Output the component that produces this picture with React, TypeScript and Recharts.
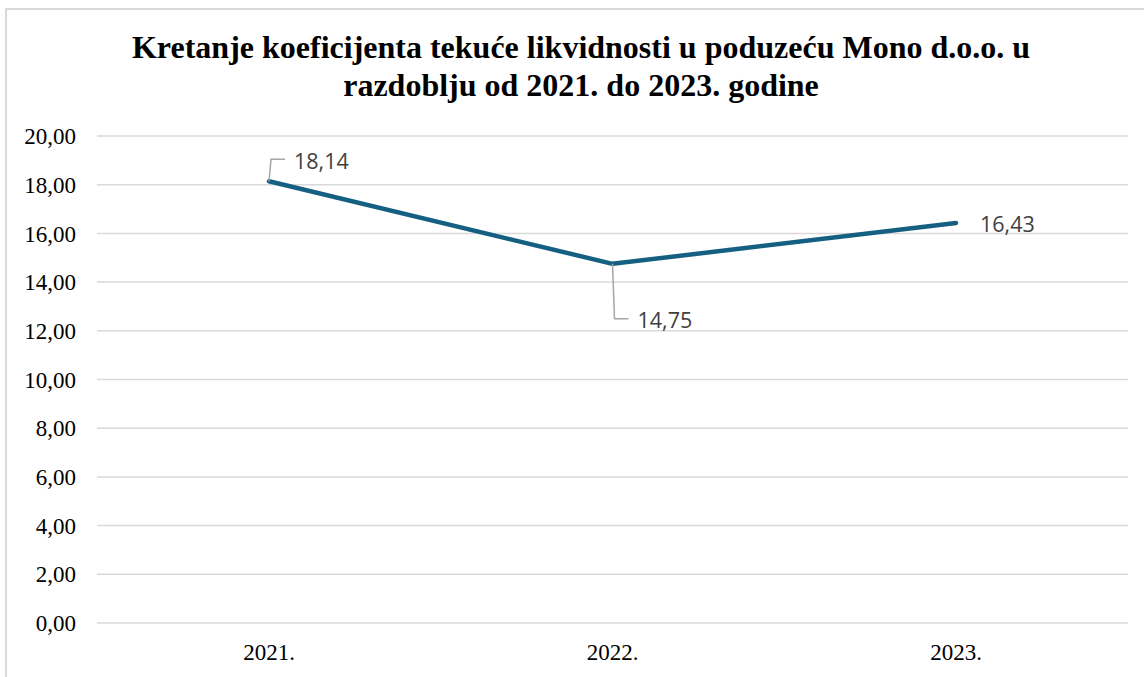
import React from "react";
import { LineChart, Line, XAxis, YAxis, CartesianGrid, LabelList } from "recharts";

const categories = ["2021.", "2022.", "2023."];
const values = [18.14, 14.75, 16.43];
const yTicks = [0, 2, 4, 6, 8, 10, 12, 14, 16, 18, 20];
const titleLines = [
  "Kretanje koeficijenta tekuće likvidnosti u poduzeću Mono d.o.o. u",
  "razdoblju od 2021. do 2023. godine",
];

const data = categories.map((c, i) => ({ name: c, value: values[i] }));

// label placement relative to the point (styling, not data)
const labelPlacement = [
  { dx: 25, dy: -21, leader: true },
  { dx: 25, dy: 56, leader: true },
  { dx: 24, dy: 1, leader: false },
];

const fmt = (v: number) => v.toFixed(2).replace(".", ",");

const DataLabel = (props: any) => {
  const { x, y, value, index } = props;
  const p = labelPlacement[index] || { dx: 10, dy: 0, leader: false };
  const tx = x + p.dx;
  const ty = y + p.dy;
  return (
    <g>
      {p.leader && (
        <path
          d={`M${x},${y} L${x + 2},${ty - 1} L${tx - 9},${ty - 1}`}
          fill="none"
          stroke="#a6a6a6"
          strokeWidth={1.5}
        />
      )}
      <text
        x={tx}
        y={ty}
        dominantBaseline="central"
        fontFamily="'Open Sans', sans-serif"
        fontSize={21.5}
        fill="#404040"
      >
        {fmt(value)}
      </text>
    </g>
  );
};

export default function App() {
  return (
    <div
      style={{
        position: "absolute",
        left: 0,
        top: 0,
        width: 1144,
        height: 677,
        overflow: "hidden",
        background: "#fff",
      }}
    >
      <div
        style={{
          position: "absolute",
          left: 5,
          top: 8,
          width: 1200,
          height: 700,
          borderLeft: "2px solid #d9d9d9",
          borderTop: "2px solid #d9d9d9",
          boxSizing: "border-box",
        }}
      />
      <div
        style={{
          position: "absolute",
          left: 0,
          top: 28,
          width: 1162,
          textAlign: "center",
          fontFamily: "'Liberation Serif', 'Times New Roman', serif",
          fontWeight: "bold",
          fontSize: 32,
          lineHeight: "38px",
          color: "#000",
        }}
      >
        {titleLines.map((t, i) => (
          <div key={i}>{t}</div>
        ))}
      </div>
      <div style={{ position: "absolute", left: 0, top: 0 }}>
        <LineChart
          width={1144}
          height={677}
          data={data}
          margin={{ top: 136, right: 16, bottom: 0, left: 0 }}
        >
          <CartesianGrid vertical={false} stroke="#d9d9d9" strokeWidth={1.5} />
          <XAxis
            dataKey="name"
            axisLine={false}
            tickLine={false}
            tickSize={0}
            tickMargin={21}
            height={54}
            padding={{ left: 172, right: 172 }}
            tick={{
              fontFamily: "'Liberation Serif', 'Times New Roman', serif",
              fontSize: 23,
              fill: "#000",
            }}
          />
          <YAxis
            domain={[0, 20]}
            ticks={yTicks}
            interval={0}
            axisLine={false}
            tickLine={false}
            tickSize={0}
            tickMargin={21}
            width={97}
            tickFormatter={fmt}
            tick={{
              fontFamily: "'Liberation Serif', 'Times New Roman', serif",
              fontSize: 23,
              fill: "#000",
            }}
          />
          <Line
            type="linear"
            dataKey="value"
            stroke="#156082"
            strokeWidth={4.5}
            strokeLinecap="round"
            strokeLinejoin="round"
            dot={false}
            activeDot={false}
            isAnimationActive={false}
          >
            <LabelList dataKey="value" content={<DataLabel />} />
          </Line>
        </LineChart>
      </div>
    </div>
  );
}
